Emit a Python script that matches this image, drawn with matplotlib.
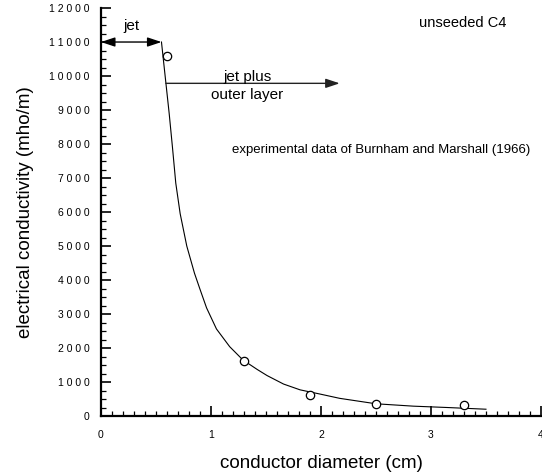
import numpy as np
import matplotlib.pyplot as plt
from matplotlib.ticker import MultipleLocator, FuncFormatter

plt.rcParams['font.family'] = ['Liberation Sans', 'DejaVu Sans']

# experimental data of Burnham and Marshall (1966)
diam_exp = [0.6, 1.3, 1.9, 2.5, 3.3]
sigma_exp = [10600, 1620, 610, 360, 320]

# fitted curve
diam_fit = [0.55, 0.59, 0.62, 0.65, 0.68, 0.72, 0.78, 0.85, 0.90, 0.96,
            1.05, 1.17, 1.29, 1.42, 1.51, 1.66, 1.81, 2.00, 2.17, 2.50,
            2.84, 3.15, 3.50]
sigma_fit = [11000, 9800, 8900, 7900, 6850, 5950, 5000, 4200, 3730, 3180,
             2560, 2040, 1650, 1370, 1190, 940, 770, 640, 520, 360,
             290, 250, 200]

JET_EDGE = 0.55
JET_LEVEL = 11000
OUTER_START = 0.59
OUTER_END = 2.17
OUTER_LEVEL = 9785


def spaced(v, pos):
    return ' '.join(f'{v:.0f}')


fig = plt.figure(figsize=(5.42, 4.72), dpi=100)
ax = fig.add_axes([0.1863, 0.1186, 0.8118, 0.8644])

ax.plot(diam_fit, sigma_fit, color='black', linewidth=0.8)
ax.plot(diam_exp, sigma_exp, 'o', markersize=6, markerfacecolor='white',
        markeredgecolor='black', markeredgewidth=0.9)

# arrows
ax.annotate('', xy=(JET_EDGE, JET_LEVEL), xytext=(0, JET_LEVEL),
            arrowprops=dict(arrowstyle='<|-|>,head_length=0.6,head_width=0.2',
                            mutation_scale=14, color='black', lw=1,
                            shrinkA=0, shrinkB=0), annotation_clip=False)
ax.annotate('', xy=(OUTER_END, OUTER_LEVEL), xytext=(OUTER_START, OUTER_LEVEL),
            arrowprops=dict(arrowstyle='-|>,head_length=0.6,head_width=0.2',
                            mutation_scale=14, color='#222222', lw=1,
                            shrinkA=0, shrinkB=0))

ax.text(0.28, 11470, 'jet', ha='center', va='center', fontsize=11)
ax.text(1.33, 9860, 'jet plus', ha='center', va='baseline', fontsize=11)
ax.text(1.33, 9440, 'outer layer', ha='center', va='center', fontsize=11)
ax.text(3.29, 11560, 'unseeded C4', ha='center', va='center', fontsize=10.5)
ax.text(2.55, 7820, 'experimental data of Burnham and Marshall (1966)',
        ha='center', va='center', fontsize=9.5)

ax.set_xlim(0, 4)
ax.set_ylim(0, 12000)
ax.xaxis.set_major_locator(MultipleLocator(1))
ax.xaxis.set_minor_locator(MultipleLocator(0.1))
ax.yaxis.set_major_locator(MultipleLocator(1000))
ax.yaxis.set_minor_locator(MultipleLocator(250))
ax.xaxis.set_major_formatter(FuncFormatter(spaced))
ax.yaxis.set_major_formatter(FuncFormatter(spaced))

ax.spines['top'].set_visible(False)
ax.spines['right'].set_visible(False)
ax.spines['left'].set_linewidth(1.6)
ax.spines['bottom'].set_linewidth(1.6)

ax.tick_params(axis='both', which='major', direction='in', length=7,
               width=1.2, labelsize=7.5)
ax.tick_params(axis='both', which='minor', direction='in', length=3.5,
               width=0.9)
ax.tick_params(axis='y', which='major', pad=8)
ax.tick_params(axis='x', which='major', pad=10)

ax.set_xlabel('conductor diameter (cm)', fontsize=13.5, labelpad=11)
ax.set_ylabel('electrical conductivity (mho/m)', fontsize=13.5, labelpad=11)

fig.savefig('out.png', dpi=100)
